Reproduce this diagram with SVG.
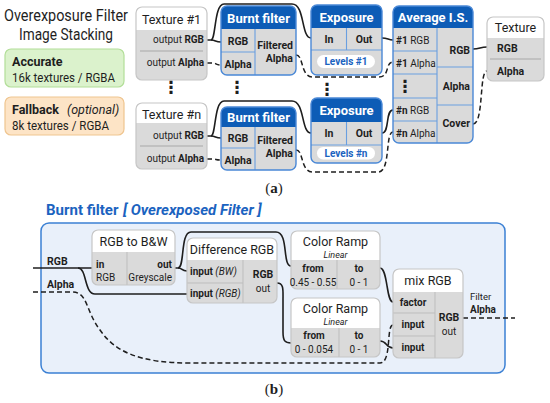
<svg xmlns="http://www.w3.org/2000/svg" width="550" height="403" viewBox="0 0 550 403">
<style>
text{font-family:Roboto,"Open Sans","Noto Sans",sans-serif;fill:#1e1e1e}
.b{font-weight:bold}
.i{font-style:italic}
.m{text-anchor:middle}
.e{text-anchor:end}
.wt{fill:#fff;font-weight:bold;font-size:13px;text-anchor:middle}
.lv{fill:#1b63c0;font-weight:bold;font-size:10px;text-anchor:middle}
.cap{font-family:"Liberation Serif",serif;font-size:15px;text-anchor:middle}
.dots{font-family:"DejaVu Sans",sans-serif;font-size:17px;text-anchor:middle;font-weight:bold}
.body{fill:#dadada}
.bb{fill:none;stroke:#4a88d6;stroke-width:1.4}
.gb{fill:none;stroke:#c6c6c6;stroke-width:1.2}
.hb{fill:#0d5cb6}
.hw{fill:#fff}
.dv{stroke:#6a9fe0;stroke-width:1.1}
.dg{stroke:#a8a8a8;stroke-width:1}
.dl{stroke:#bdbdbd;stroke-width:1}
.w{stroke:#1e1e1e;stroke-width:1.6;fill:none}
.d{stroke:#1e1e1e;stroke-width:1.5;fill:none;stroke-dasharray:5 3}
.bt{fill:#1b63c0;font-weight:bold;font-size:15px}
</style>

<!-- (a) legend -->
<g id="title">
<text x="66" y="21" class="m" font-size="16" textLength="124" lengthAdjust="spacingAndGlyphs">Overexposure Filter</text>
<text x="66" y="40" class="m" font-size="16" textLength="94" lengthAdjust="spacingAndGlyphs">Image Stacking</text>
</g>
<g id="accurate">
<rect x="5" y="49" width="119" height="38" rx="6" fill="#dbf2cc" stroke="#b2de98" stroke-width="1.2"/>
<text x="12" y="66" class="b" font-size="12.5">Accurate</text>
<text x="12" y="82" font-size="12" textLength="103" lengthAdjust="spacingAndGlyphs">16k textures / RGBA</text>
</g>
<g id="fallback">
<rect x="5" y="97" width="119" height="38" rx="6" fill="#fde4c6" stroke="#efc58f" stroke-width="1.2"/>
<text x="12" y="114" font-size="12.5"><tspan class="b">Fallback</tspan><tspan class="i" x="67">(optional)</tspan></text>
<text x="12" y="130" font-size="12" textLength="97" lengthAdjust="spacingAndGlyphs">8k textures / RGBA</text>
</g>

<!-- (a) connectors -->
<g id="connectors-a">
<path class="w" d="M207,40 L211,40 C216,40 214,4 224,4 L292,4 C305,4 301,38 311,38"/>
<path class="w" d="M211,40 C216,40 215,42 221,42"/>
<path class="d" d="M207,63 L213,63 C216,63 216,65 221,65"/>
<path class="d" d="M296,55 C304,55 300,77 313,77 L379,77 C390,77 385,62 393,62"/>
<path class="w" d="M382,38 C388,38 388,40 393,40"/>
<path class="w" d="M207,136 L211,136 C216,136 214,101 224,101 L292,101 C305,101 301,133 311,133"/>
<path class="w" d="M211,136 C216,136 215,138 221,138"/>
<path class="d" d="M207,159 L213,159 C216,159 216,160 221,160"/>
<path class="d" d="M296,150 C304,150 300,172 313,172 L378,172 C391,172 385,132 393,132"/>
<path class="w" d="M382,133 C390,133 385,110 393,110"/>
<path class="w" d="M473,49 C480,49 480,47 487,47"/>
<path class="d" d="M473,124 C484,124 479,71 487,71"/>
</g>

<g id="texture1">
<rect x="136" y="7" width="71" height="73" rx="6" class="body"/>
<rect x="136" y="7" width="71" height="23" rx="6" class="hw"/>
<rect x="136" y="22" width="71" height="8" class="hw"/>
<line x1="140" y1="51" x2="203" y2="51" class="dg"/>
<rect x="136" y="7" width="71" height="73" rx="6" class="gb"/>
<text x="171.5" y="24" class="m" font-size="12.5">Texture #1</text>
<text x="204" y="43" class="e" font-size="10">output <tspan class="b">RGB</tspan></text>
<text x="204" y="66" class="e" font-size="10">output <tspan class="b">Alpha</tspan></text>
</g>
<g id="texturen">
<rect x="136" y="103" width="71" height="66" rx="6" class="body"/>
<rect x="136" y="103" width="71" height="20" rx="6" class="hw"/>
<rect x="136" y="115" width="71" height="8" class="hw"/>
<line x1="140" y1="146" x2="203" y2="146" class="dg"/>
<rect x="136" y="103" width="71" height="66" rx="6" class="gb"/>
<text x="171.5" y="119" class="m" font-size="12.5">Texture #n</text>
<text x="204" y="139" class="e" font-size="10">output <tspan class="b">RGB</tspan></text>
<text x="204" y="162" class="e" font-size="10">output <tspan class="b">Alpha</tspan></text>
</g>

<g id="burnt1">
<rect x="221" y="6" width="75" height="69" rx="6" class="body"/>
<rect x="221" y="6" width="75" height="23" rx="6" class="hb"/>
<rect x="221" y="21" width="75" height="8" class="hb"/>
<line x1="255" y1="29" x2="255" y2="75" class="dv"/>
<line x1="221" y1="52" x2="255" y2="52" class="dv"/>
<rect x="221" y="6" width="75" height="69" rx="6" class="bb"/>
<text x="258.5" y="23" class="wt">Burnt filter</text>
<text x="238" y="45" class="m b" font-size="10.5">RGB</text>
<text x="238" y="68" class="m b" font-size="10.5">Alpha</text>
<text x="293" y="49" class="e b" font-size="10.5">Filtered</text>
<text x="293" y="62" class="e b" font-size="10.5">Alpha</text>
</g>
<g id="burntn">
<rect x="221" y="107" width="75" height="63" rx="6" class="body"/>
<rect x="221" y="107" width="75" height="20" rx="6" class="hb"/>
<rect x="221" y="119" width="75" height="8" class="hb"/>
<line x1="255" y1="127" x2="255" y2="170" class="dv"/>
<line x1="221" y1="148" x2="255" y2="148" class="dv"/>
<rect x="221" y="107" width="75" height="63" rx="6" class="bb"/>
<text x="258.5" y="122" class="wt">Burnt filter</text>
<text x="238" y="142" class="m b" font-size="10.5">RGB</text>
<text x="238" y="164" class="m b" font-size="10.5">Alpha</text>
<text x="293" y="144" class="e b" font-size="10.5">Filtered</text>
<text x="293" y="157" class="e b" font-size="10.5">Alpha</text>
</g>

<g id="exposure1">
<rect x="311" y="5" width="71" height="70" rx="6" class="body"/>
<rect x="311" y="5" width="71" height="23" rx="6" class="hb"/>
<rect x="311" y="20" width="71" height="8" class="hb"/>
<line x1="346.5" y1="28" x2="346.5" y2="50" class="dv"/>
<line x1="311" y1="50" x2="382" y2="50" class="dv"/>
<rect x="317" y="55" width="58" height="13" rx="6.5" fill="#fff"/>
<rect x="311" y="5" width="71" height="70" rx="6" class="bb"/>
<text x="346.5" y="22" class="wt">Exposure</text>
<text x="329" y="43" class="m b" font-size="10.5">In</text>
<text x="364" y="43" class="m b" font-size="10.5">Out</text>
<text x="346" y="65" class="lv">Levels #1</text>
</g>
<g id="exposuren">
<rect x="311" y="98" width="71" height="65" rx="6" class="body"/>
<rect x="311" y="98" width="71" height="24" rx="6" class="hb"/>
<rect x="311" y="114" width="71" height="8" class="hb"/>
<line x1="346.5" y1="122" x2="346.5" y2="145" class="dv"/>
<line x1="311" y1="145" x2="382" y2="145" class="dv"/>
<rect x="317" y="147" width="58" height="12.5" rx="6.2" fill="#fff"/>
<rect x="311" y="98" width="71" height="65" rx="6" class="bb"/>
<text x="346.5" y="115" class="wt">Exposure</text>
<text x="329" y="137" class="m b" font-size="10.5">In</text>
<text x="364" y="137" class="m b" font-size="10.5">Out</text>
<text x="346" y="157" class="lv">Levels #n</text>
</g>

<g id="average">
<rect x="393" y="6" width="80" height="137" rx="6" class="body"/>
<rect x="393" y="6" width="80" height="22" rx="6" class="hb"/>
<rect x="393" y="20" width="80" height="8" class="hb"/>
<line x1="437" y1="28" x2="437" y2="143" class="dv"/>
<line x1="393" y1="51" x2="437" y2="51" class="dv"/>
<line x1="393" y1="74" x2="437" y2="74" class="dv"/>
<line x1="393" y1="98" x2="437" y2="98" class="dv"/>
<line x1="393" y1="121" x2="437" y2="121" class="dv"/>
<line x1="437" y1="67" x2="473" y2="67" class="dv"/>
<line x1="437" y1="105" x2="473" y2="105" class="dv"/>
<rect x="393" y="6" width="80" height="137" rx="6" class="bb"/>
<text x="433" y="22" class="wt">Average I.S.</text>
<text x="396" y="44" font-size="10"><tspan class="b">#1</tspan> RGB</text>
<text x="396" y="67" font-size="10"><tspan class="b">#1</tspan> Alpha</text>
<text x="405" y="92" class="dots">⋮</text>
<text x="396" y="114" font-size="10"><tspan class="b">#n</tspan> RGB</text>
<text x="396" y="137" font-size="10"><tspan class="b">#n</tspan> Alpha</text>
<text x="470" y="54" class="e b" font-size="10.5">RGB</text>
<text x="470" y="90" class="e b" font-size="10.5">Alpha</text>
<text x="470" y="127" class="e b" font-size="10.5">Cover</text>
</g>

<g id="textureOut">
<rect x="487" y="17" width="57" height="64" rx="6" class="body"/>
<rect x="487" y="17" width="57" height="21" rx="6" class="hw"/>
<rect x="487" y="30" width="57" height="8" class="hw"/>
<line x1="490" y1="59" x2="541" y2="59" class="dg"/>
<rect x="487" y="17" width="57" height="64" rx="6" class="gb"/>
<text x="515.5" y="32" class="m" font-size="12.5">Texture</text>
<text x="497" y="52" class="b" font-size="10.5">RGB</text>
<text x="497" y="75" class="b" font-size="10.5">Alpha</text>
</g>

<g id="ellipses">
<text x="171" y="93" class="dots">⋮</text>
<text x="237" y="93" class="dots">⋮</text>
<text x="327" y="95" class="dots">⋮</text>
</g>

<text x="274" y="193" class="cap">(<tspan font-weight="bold">a</tspan>)</text>

<!-- (b) -->
<g id="title-b">
<text x="46" y="215" class="bt">Burnt filter</text>
<text x="123" y="215" class="bt i">[ Overexposed Filter ]</text>
</g>
<rect id="panel" x="41" y="223" width="464" height="150" rx="8" fill="#e9f0fa" stroke="#3b80d4" stroke-width="1.5"/>
<text x="47" y="265" class="b" font-size="10.5">RGB</text>
<text x="47" y="288" class="b" font-size="10.5">Alpha</text>

<g id="connectors-b">
<path class="w" d="M33,268 L92,268"/>
<path class="w" d="M78,268 C87,268 84,294 95,294 L187,294"/>
<path class="w" d="M175,268 L178,268 C183,268 181,271 187,271"/>
<path class="w" d="M178,268 C185,268 180,232 191,232 L276,232 C289,232 282,266 291,266"/>
<path class="w" d="M277,283 C284,283 283,290 283,300 L283,332 C283,341 285,343 291,343"/>
<path class="w" d="M380,268 C388,268 386,302 393,302"/>
<path class="w" d="M380,341 C387,341 386,348 393,348"/>
<path class="d" d="M33,292 L72,292 C88,292 85,310 100,330 C115,352 140,363 190,363 L380,363 C392,363 386,325 393,325"/>
<path class="d" d="M463,318 L515,318"/>
</g>

<g id="rgb2bw">
<rect x="92" y="230" width="83" height="55" rx="6" class="body"/>
<rect x="92" y="230" width="83" height="22" rx="6" class="hw"/>
<rect x="92" y="244" width="83" height="8" class="hw"/>
<line x1="127" y1="252" x2="127" y2="285" class="dl"/>
<rect x="92" y="230" width="83" height="55" rx="6" class="gb"/>
<text x="133.5" y="246" class="m" font-size="12.5">RGB to B&amp;W</text>
<text x="96" y="268" class="b" font-size="10">in</text>
<text x="96" y="281" font-size="10">RGB</text>
<text x="172" y="268" class="e b" font-size="10">out</text>
<text x="172" y="281" class="e" font-size="10">Greyscale</text>
</g>

<g id="difference">
<rect x="187" y="238" width="90" height="65" rx="6" class="body"/>
<rect x="187" y="238" width="90" height="22" rx="6" class="hw"/>
<rect x="187" y="252" width="90" height="8" class="hw"/>
<line x1="243" y1="260" x2="243" y2="303" class="dl"/>
<line x1="187" y1="283" x2="243" y2="283" class="dl"/>
<rect x="187" y="238" width="90" height="65" rx="6" class="gb"/>
<text x="232" y="254" class="m" font-size="12.5">Difference RGB</text>
<text x="190" y="275" font-size="10"><tspan class="b">input</tspan> <tspan class="i">(BW)</tspan></text>
<text x="190" y="297" font-size="10"><tspan class="b">input</tspan> <tspan class="i">(RGB)</tspan></text>
<text x="263" y="278" class="m b" font-size="10.5">RGB</text>
<text x="263" y="292" class="m" font-size="10">out</text>
</g>

<g id="ramp1">
<rect x="291" y="231" width="89" height="58" rx="6" class="body"/>
<rect x="291" y="231" width="89" height="29" rx="6" class="hw"/>
<rect x="291" y="252" width="89" height="8" class="hw"/>
<line x1="337" y1="260" x2="337" y2="289" class="dl"/>
<rect x="291" y="231" width="89" height="58" rx="6" class="gb"/>
<text x="335.5" y="246" class="m" font-size="12.5">Color Ramp</text>
<text x="335.5" y="258" class="m i" font-size="9">Linear</text>
<text x="313" y="272" class="m b" font-size="10">from</text>
<text x="313" y="286" class="m" font-size="10">0.45 - 0.55</text>
<text x="359" y="272" class="m b" font-size="10">to</text>
<text x="359" y="286" class="m" font-size="10">0 - 1</text>
</g>

<g id="ramp2">
<rect x="291" y="298" width="89" height="59" rx="6" class="body"/>
<rect x="291" y="298" width="89" height="30" rx="6" class="hw"/>
<rect x="291" y="320" width="89" height="8" class="hw"/>
<line x1="339" y1="328" x2="339" y2="357" class="dl"/>
<rect x="291" y="298" width="89" height="59" rx="6" class="gb"/>
<text x="335.5" y="313" class="m" font-size="12.5">Color Ramp</text>
<text x="335.5" y="325" class="m i" font-size="9">Linear</text>
<text x="314" y="339" class="m b" font-size="10">from</text>
<text x="314" y="353" class="m" font-size="10">0 - 0.054</text>
<text x="359" y="339" class="m b" font-size="10">to</text>
<text x="359" y="353" class="m" font-size="10">0 - 1</text>
</g>

<g id="mixrgb">
<rect x="393" y="269" width="70" height="89" rx="6" class="body"/>
<rect x="393" y="269" width="70" height="23" rx="6" class="hw"/>
<rect x="393" y="284" width="70" height="8" class="hw"/>
<line x1="435" y1="292" x2="435" y2="358" class="dl"/>
<line x1="393" y1="313" x2="435" y2="313" class="dl"/>
<line x1="393" y1="336" x2="435" y2="336" class="dl"/>
<rect x="393" y="269" width="70" height="89" rx="6" class="gb"/>
<text x="428" y="285" class="m" font-size="12.5">mix RGB</text>
<text x="413" y="306" class="m b" font-size="10">factor</text>
<text x="413" y="328" class="m b" font-size="10">input</text>
<text x="413" y="351" class="m b" font-size="10">input</text>
<text x="449" y="321" class="m b" font-size="10.5">RGB</text>
<text x="449" y="335" class="m" font-size="10">out</text>
</g>

<g id="filter-alpha">
<text x="470" y="300" font-size="9.5">Filter</text>
<text x="470" y="313" class="b" font-size="10">Alpha</text>
</g>

<text x="274" y="394" class="cap">(<tspan font-weight="bold">b</tspan>)</text>
</svg>
